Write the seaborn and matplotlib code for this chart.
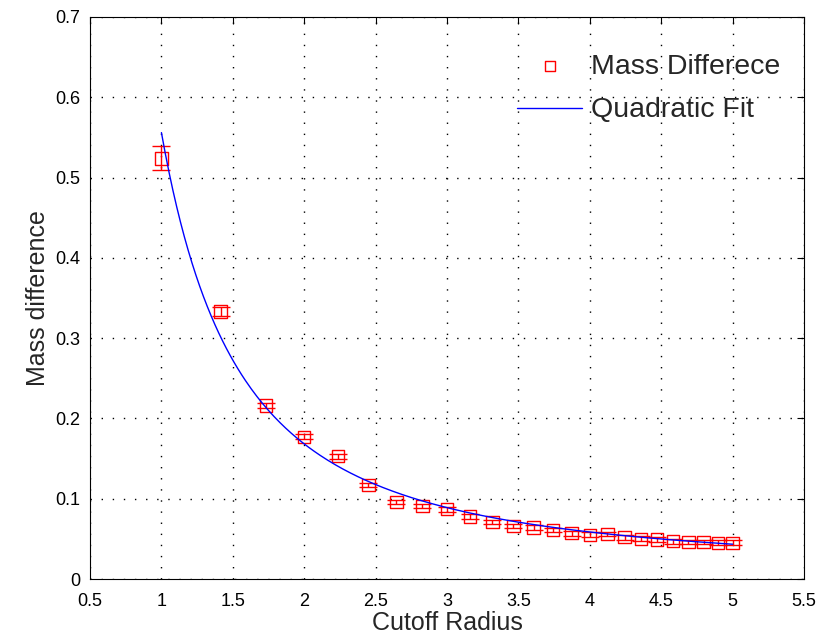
import numpy as np
import pandas as pd
import matplotlib
matplotlib.use("Agg")
import matplotlib.pyplot as plt
import seaborn as sns

# datos
radio = [1.000, 1.414, 1.732, 2.000, 2.236, 2.449, 2.646, 2.828, 3.000,
         3.162, 3.317, 3.464, 3.606, 3.742, 3.873, 4.000, 4.123, 4.243,
         4.359, 4.472, 4.583, 4.690, 4.796, 4.899, 5.000]
masa = [0.524, 0.333, 0.216, 0.177, 0.153, 0.117, 0.096, 0.091, 0.087,
        0.078, 0.071, 0.066, 0.064, 0.061, 0.057, 0.055, 0.056, 0.052,
        0.050, 0.049, 0.047, 0.046, 0.046, 0.045, 0.045]
error = [0.015, 0.006, 0.003, 0.003, 0.003, 0.003, 0.003, 0.003, 0.003,
         0.003, 0.003, 0.003, 0.003, 0.003, 0.003, 0.003, 0.003, 0.003,
         0.003, 0.003, 0.003, 0.003, 0.003, 0.003, 0.003]

# coeficientes del ajuste cuadratico en 1/r (a/r^2 + b/r + c)
coef_ajuste = [0.449, 0.102, 0.005]

df = pd.DataFrame({'radio': radio, 'masa': masa, 'error': error})

r_fit = np.linspace(min(radio), max(radio), 300)
fit = pd.DataFrame({'radio': r_fit, 'masa': np.polyval(coef_ajuste, 1.0 / r_fit)})

sns.set_style("white")
plt.rcParams['font.family'] = ['Liberation Sans', 'DejaVu Sans']

fig = plt.figure(figsize=(8.29, 6.41), dpi=100)
ax = fig.add_axes([0.1086, 0.0967, 0.8613, 0.8768])

ax.errorbar(df['radio'], df['masa'], yerr=df['error'], fmt='none',
            ecolor='red', elinewidth=1, capsize=6.5, zorder=3)
sns.scatterplot(data=df, x='radio', y='masa', ax=ax, marker='s', s=80,
                facecolor='none', edgecolor='red', linewidth=1,
                label='Mass Differece', zorder=4)
sns.lineplot(data=fit, x='radio', y='masa', ax=ax, color='blue',
             linewidth=1, label='Quadratic Fit', zorder=5)

ax.set_xlim(0.5, 5.5)
ax.set_ylim(0, 0.7)
ax.set_xticks(np.arange(0.5, 5.51, 0.5))
ax.set_yticks(np.arange(0, 0.71, 0.1))
ax.set_xticklabels(['0.5', '1', '1.5', '2', '2.5', '3', '3.5', '4', '4.5', '5', '5.5'])
ax.set_yticklabels(['0', '0.1', '0.2', '0.3', '0.4', '0.5', '0.6', '0.7'])
ax.grid(True, color='black', linestyle=(0, (1, 7)), linewidth=1)
ax.tick_params(direction='in', length=5, labelsize=13, top=True, right=True,
               color='black', labelcolor='black')
ax.tick_params(axis='x', pad=10)
ax.tick_params(axis='y', pad=7)
for s in ax.spines.values():
    s.set_color('black')
    s.set_linewidth(0.8)

ax.set_xlabel('Cutoff Radius', fontsize=18, labelpad=1)
ax.set_ylabel('Mass difference', fontsize=18, labelpad=4)

ax.legend(loc='upper right', bbox_to_anchor=(1.0, 0.977), frameon=False,
          fontsize=20.5, handlelength=2.3, handletextpad=0.3,
          labelspacing=0.62, markerscale=0.8, borderaxespad=0.44)

fig.savefig('out.png', dpi=100)
